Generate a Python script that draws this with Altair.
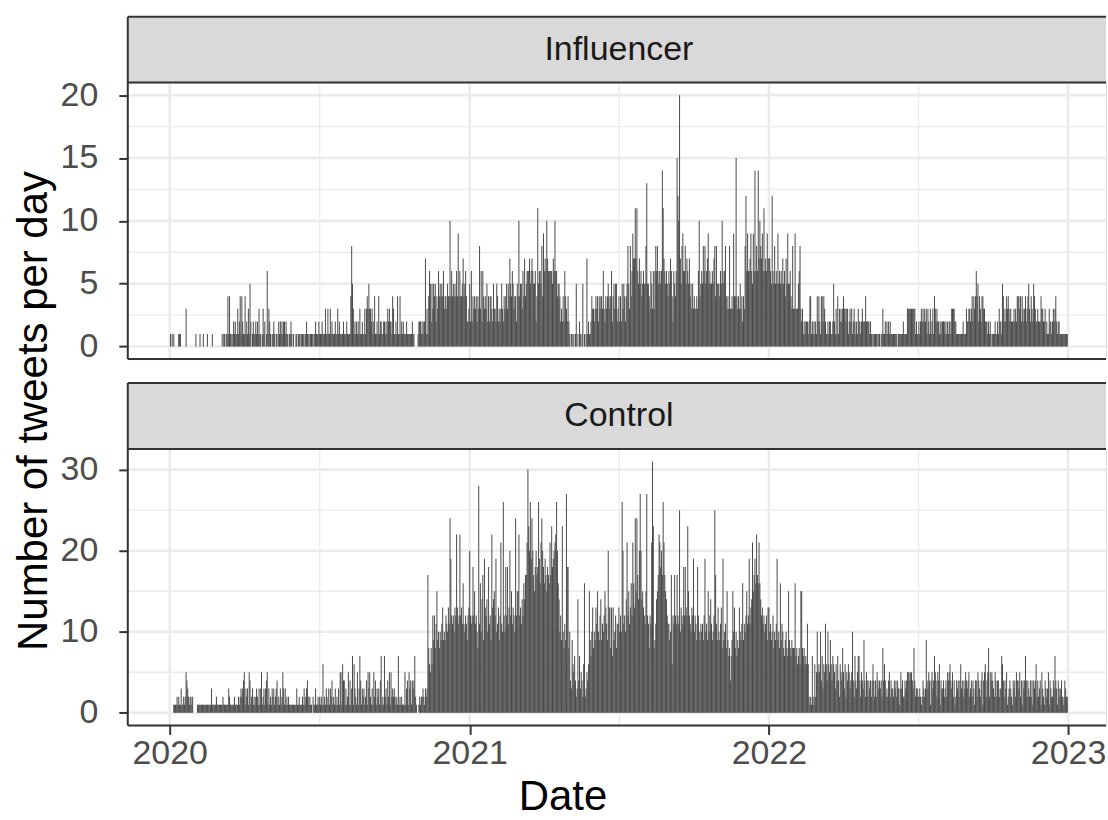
import altair as alt
import pandas as pd

# ---- daily tweet counts, one string per month, one base-36 digit per day ----
INFLUENCER_2020 = [
    "0101010000" "0111000000" "3000000000" "0",
    "0100001000" "1000010000" "010000000",
    "0000101101" "1414110121" "2113124142" "1",
    "1412131520" "1211212131" "1013120161",
    "3210112101" "1021212122" "1211011210" "1",
    "0011011101" "1101121101" "1110112111",
    "2111211131" "1311312111" "2113121111" "2",
    "1112111148" "5312121213" "1121131343" "5",
    "3323124112" "1412211221" "2132322143",
    "1121411412" "1211121111" "1121100001" "2",
    "2212122713" "1465253545" "2436454546",
    "3443544a46" "4545464946" "4457456422" "3",
]
INFLUENCER_2021 = [
    "5262434342" "4383626434" "3524244325" "3",
    "3254232353" "2434535475" "46534425",
    "4a45536474" "5666756765" "5624b56658" "4",
    "9676a76666" "6576a66455" "4232426432",
    "4210110101" "5010210150" "1017121124" "3",
    "3234342434" "4363243454" "3462453552",
    "3424253542" "4585384697" "7b7b657564" "5",
    "6558d55436" "5363686856" "656eb76565" "4",
    "6576426546" "fcak758966" "8576574535",
    "3433436a45" "6586856795" "6556578485" "5",
    "5465a65684" "3438334394" "4f43435342",
    "438c696679" "6596e686e7" "a8796b6769" "7",
]
INFLUENCER_2022 = [
    "7765c65856" "5956565756" "4759556438" "3",
    "3933356832" "3121222124" "41212121",
    "4242144243" "2112122112" "5213141323" "2",
    "3433233123" "2312321213" "2212322242",
    "2221211011" "1110110113" "1121212121" "1",
    "1111110111" "1112111133" "3333333312",
    "1121232323" "2313213123" "1432322121" "2",
    "2221212122" "1333322111" "1111121113" "2",
    "2332342434" "6452432443" "3222121210",
    "1112112132" "2154232434" "3232223232" "4",
    "4434243234" "2345324325" "4322322243",
    "3223121132" "2123234212" "2111111111" "1",
]
CONTROL_2020 = [
    "0000011112" "1211311212" "5432122120" "0",
    "0001111111" "1111111111" "311111211",
    "1111121111" "1132111112" "1111212323" "4",
    "5132315412" "3121232131" "3512313451",
    "3121323123" "4121312531" "3121211111" "1",
    "1113112111" "2131234212" "1102113112",
    "1212161213" "2131324121" "3121315516" "4",
    "4131251413" "7163215137" "4132312415" "3",
    "5213152413" "2314712172" "3142515232",
    "3212171212" "1115134153" "4143472100" "1",
    "2122321323" "h86586c9c8" "bf9a8a9bd9",
    "a9cbadbojc" "bcadcmdbcm" "cdbgbacb9c" "d",
]
CONTROL_2021 = [
    "kcbcicfbca" "8sbgaeh9jd" "ceaibc9mde" "f",
    "cjabd9clba" "qcaicibdkc" "fbdcaocf",
    "fmcdbecgeh" "hlunkqjokh" "fikhiqjglo" "k",
    "igjhfihglh" "nijklmqkge" "ac9na8b9ri",
    "i8a4396574" "23e4735426" "g23546f97a" "d",
    "8a9dbfa9ce" "9bacfdb9kd" "d8d7d9ac8b",
    "bdacaqkbca" "elcfbdgclg" "dofohekrke" "f",
    "dcbfrcb8cb" "lvn89befhm" "likhqlhfec" "b",
    "b9ah6cbhcb" "hcbpadcbic" "idcnfcbadc",
    "jacb9ica9b" "ab9cjab9fa" "ceb9acphb9" "d",
    "a9bd8j9ab8" "f978479fad" "8a798da9bg",
    "9bacfbcjbd" "elfhjgmhgl" "gecdbcabc9" "d",
]
CONTROL_2022 = [
    "dab9ac8a9b" "j9a8g9ba87" "9a87f98798" "8",
    "8g786786ff" "878676b621" "21721625",
    "a565a47365" "b64a659647" "6536474265" "4",
    "8536254653" "45a4274357" "7425439425",
    "4243424642" "4254343428" "4642324524" "3",
    "3243424313" "5342243455" "5455438423",
    "3223212432" "3943541453" "4754254614" "3",
    "3423425456" "4352412434" "2463424354" "3",
    "4523424314" "4254324514" "5624582545",
    "4325424423" "3764243512" "3432143425" "4",
    "4352414347" "4243242414" "3462423415",
    "3214323514" "3224374314" "3234212432" "2",
]

PANELS = ["Influencer", "Control"]
Y_MAJOR = {"Influencer": [0, 5, 10, 15, 20], "Control": [0, 10, 20, 30]}
Y_MINOR = {"Influencer": [2.5, 7.5, 12.5, 17.5], "Control": [5, 15, 25]}
Y_DOMAIN = {"Influencer": [-1, 21], "Control": [-1.55, 32.55]}
X_MAJOR = ["2020-01-01", "2021-01-01", "2022-01-01", "2023-01-01"]
X_MINOR = ["2020-07-02", "2021-07-02T12:00:00", "2022-07-02T12:00:00"]
YEAR_TICKS = [2020, 2021, 2022, 2023]

MONTH_DAYS = {
    2020: [31, 29, 31, 30, 31, 30, 31, 31, 30, 31, 30, 31],
    2021: [31, 28, 31, 30, 31, 30, 31, 31, 30, 31, 30, 31],
    2022: [31, 28, 31, 30, 31, 30, 31, 31, 30, 31, 30, 31],
}


def decode(year, months):
    rows = []
    for m, s in enumerate(months):
        n = MONTH_DAYS[year][m]
        s = (s + "0" * n)[:n]
        for d, ch in enumerate(s):
            v = int(ch, 36)
            if v > 0:
                rows.append({"date": f"{year}-{m + 1:02d}-{d + 1:02d}", "n": v})
    return rows


DATA = {
    "Influencer": pd.DataFrame(decode(2020, INFLUENCER_2020) + decode(2021, INFLUENCER_2021)
                               + decode(2022, INFLUENCER_2022)),
    "Control": pd.DataFrame(decode(2020, CONTROL_2020) + decode(2021, CONTROL_2021)
                            + decode(2022, CONTROL_2022)),
}

W, H = 980, 277
FONT = "Liberation Sans"
GRID = "#EBEBEB"
DARK = "#333333"
ONE = pd.DataFrame({"k": [0]})
TICK_FS = 34
TITLE_FS = 42

X_DOMAIN = [
    alt.DateTime(year=2019, month=11, date=10, hours=20, minutes=24, utc=True),
    alt.DateTime(year=2023, month=2, date=16, hours=6, utc=True),
]


def xscale():
    return alt.Scale(type="utc", domain=X_DOMAIN, nice=False, padding=0)


def px_rule(x, x2, y, y2, color=DARK, width=2.0):
    return alt.Chart(ONE).mark_rule(color=color, strokeWidth=width).encode(
        x=alt.value(x), x2=alt.value(x2), y=alt.value(y), y2=alt.value(y2)
    )


def px_text(x, y, text, size, color, angle=0):
    kw = dict(fontSize=size, color=color, font=FONT, align="center", baseline="middle")
    if angle:
        kw["angle"] = angle
    return alt.Chart(ONE).mark_text(**kw).encode(
        x=alt.value(x), y=alt.value(y), text=alt.value(text)
    )


def make_xaxis(bottom):
    if not bottom:
        return None
    return alt.Axis(
        values=[alt.DateTime(year=y, month=1, date=1, utc=True) for y in YEAR_TICKS],
        format="%Y", title=None, grid=False, domain=False,
        tickColor=DARK, tickWidth=2, tickSize=9, labelPadding=2,
        labelFontSize=TICK_FS, labelColor="#4D4D4D", labelFont=FONT,
        labelFlush=False, labelOverlap=False, labelBound=False,
    )


def make_yaxis(name):
    return alt.Axis(
        values=Y_MAJOR[name], title=None, grid=False, domain=False,
        tickColor=DARK, tickWidth=2, tickSize=9, labelPadding=21,
        labelFontSize=TICK_FS, labelColor="#4D4D4D", labelFont=FONT,
    )


def panel(name, bottom):
    ys = alt.Scale(domain=Y_DOMAIN[name], nice=False, zero=False)
    hgrid = pd.DataFrame(
        {"v": Y_MINOR[name] + Y_MAJOR[name],
         "w": [1.4] * len(Y_MINOR[name]) + [2.6] * len(Y_MAJOR[name])}
    )
    vgrid = pd.DataFrame({"date": X_MINOR + X_MAJOR,
                          "w": [1.4] * len(X_MINOR) + [2.6] * len(X_MAJOR)})

    hlines = alt.Chart(hgrid).mark_rule(color=GRID).encode(
        y=alt.Y("v:Q", scale=ys, axis=make_yaxis(name)),
        size=alt.Size("w:Q", scale=None),
    )
    vlines = alt.Chart(vgrid).mark_rule(color=GRID).encode(
        x=alt.X("date:T", scale=xscale(), axis=make_xaxis(bottom)),
        size=alt.Size("w:Q", scale=None),
    )
    bars = alt.Chart(DATA[name]).mark_bar(width=1.0, color="#4A4A4A").encode(
        x=alt.X("date:T", scale=xscale(), axis=make_xaxis(bottom)),
        y=alt.Y("n:Q", scale=ys, axis=make_yaxis(name)),
        y2=alt.datum(0),
    )

    strip = alt.Chart(ONE).mark_rect(color="#D9D9D9").encode(
        x=alt.value(0), x2=alt.value(W), y=alt.value(-66), y2=alt.value(0)
    )
    layers = [
        vlines, hlines, bars,
        strip,
        px_rule(0, W, -66, -66),          # strip top
        px_rule(0, 0, -66, H),            # left border (strip + panel)
        px_rule(0, W, 0, 0),              # strip bottom / panel top
        px_rule(0, W, H, H),              # panel bottom
        px_text(492, -33, name, TICK_FS, "#1A1A1A"),
    ]
    if not bottom:
        layers.append(px_text(-94, 329, "Number of tweets per day", TITLE_FS, "black", angle=270))
        layers.append(px_rule(-126.5, -126, -80.5, -80.5, color="white", width=1))
    else:
        layers.append(px_text(436, H + 72, "Date", TITLE_FS, "black"))
    return alt.layer(*layers).properties(width=W, height=H)


chart = (
    alt.vconcat(panel("Influencer", False), panel("Control", True), spacing=90, bounds="flush")
    .properties(padding=0, background="white")
    .configure_view(stroke=None)
    .configure(font=FONT)
)

chart.save("out.html", embed_options={"renderer": "svg", "actions": False})
